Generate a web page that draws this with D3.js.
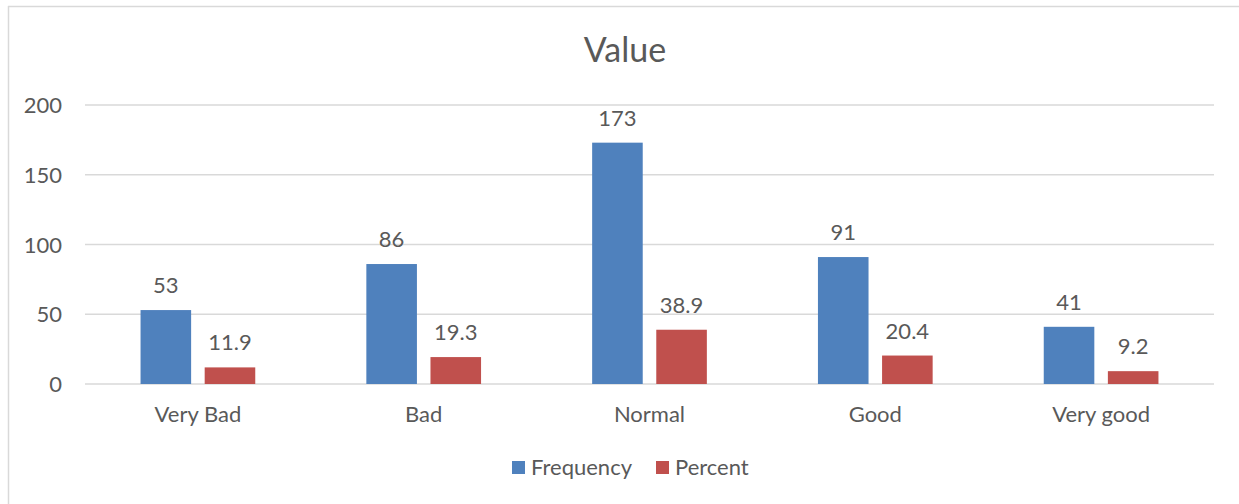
<!DOCTYPE html>
<html>
<head>
<meta charset="utf-8">
<script src="https://cdn.jsdelivr.net/npm/d3@7"></script>
<style>
  body { margin: 0; background: #fff; }
  text { font-family: Lato, "Open Sans", sans-serif; fill: #595959; }
</style>
</head>
<body>
<svg width="1239" height="504"></svg>
<script>
  // data
  var categories = ["Very Bad", "Bad", "Normal", "Good", "Very good"];
  var frequency = [53, 86, 173, 91, 41];
  var percent = [11.9, 19.3, 38.9, 20.4, 9.2];
  var percentLabels = ["11.9", "19.3", "38.9", "20.4", "9.2"];
  var yTicks = [0, 50, 100, 150, 200];
  var seriesNames = ["Frequency", "Percent"];
  var colors = ["#4F81BD", "#C0504D"];

  var svg = d3.select("svg");

  // chart border (top + left visible)
  svg.append("line").attr("x1", 8).attr("x2", 1239).attr("y1", 6.5).attr("y2", 6.5)
     .style("stroke", "#d9d9d9").style("stroke-width", 1.5);
  svg.append("line").attr("x1", 8.5).attr("x2", 8.5).attr("y1", 6).attr("y2", 504)
     .style("stroke", "#d9d9d9").style("stroke-width", 1.5);

  var plotL = 85, plotR = 1214, plotT = 105, plotB = 384;

  var xScale = d3.scaleBand().domain(categories).range([plotL, plotR]);
  var yScale = d3.scaleLinear().domain([0, 200]).range([plotB, plotT]);

  var bw = xScale.bandwidth();
  var barW = bw * 0.224, gap = bw * 0.06;

  // title
  svg.append("text")
    .attr("x", 625)
    .attr("y", 62)
    .attr("text-anchor", "middle")
    .style("font-size", "34px")
    .text("Value");

  // grid
  svg.append("g").selectAll("line")
    .data(yTicks).enter().append("line")
    .attr("x1", plotL).attr("x2", plotR)
    .attr("y1", function (d) { return yScale(d); })
    .attr("y2", function (d) { return yScale(d); })
    .style("stroke", "#d9d9d9").style("stroke-width", 1.5);

  // y tick labels
  svg.append("g").selectAll("text")
    .data(yTicks).enter().append("text")
    .attr("x", 62)
    .attr("y", function (d) { return yScale(d) + 8; })
    .attr("text-anchor", "end")
    .style("font-size", "22px")
    .text(function (d) { return d; });

  // x labels
  svg.append("g").selectAll("text")
    .data(categories).enter().append("text")
    .attr("x", function (d) { return xScale(d) + bw / 2; })
    .attr("y", 422)
    .attr("text-anchor", "middle")
    .style("font-size", "22px")
    .text(function (d) { return d; });

  var series = [frequency, percent];
  var labels = [frequency.map(String), percentLabels];

  series.forEach(function (vals, s) {
    var xPos = function (d, i) {
      var c = xScale(categories[i]) + bw / 2;
      return s === 0 ? c - gap / 2 - barW : c + gap / 2;
    };
    svg.append("g").selectAll("rect")
      .data(vals).enter().append("rect")
      .attr("x", xPos)
      .attr("y", function (d) { return yScale(d); })
      .attr("width", barW)
      .attr("height", function (d) { return plotB - yScale(d); })
      .style("fill", colors[s]);

    svg.append("g").selectAll("text")
      .data(vals).enter().append("text")
      .attr("x", function (d, i) { return xPos(d, i) + barW / 2; })
      .attr("y", function (d) { return yScale(d) - 17; })
      .attr("text-anchor", "middle")
      .style("font-size", "22px")
      .text(function (d, i) { return labels[s][i]; });
  });

  // legend
  var legendX = [512, 656];
  seriesNames.forEach(function (name, s) {
    svg.append("rect")
      .attr("x", legendX[s]).attr("y", 461)
      .attr("width", 13).attr("height", 13)
      .style("fill", colors[s]);
    svg.append("text")
      .attr("x", legendX[s] + 19).attr("y", 475)
      .style("font-size", "22px")
      .text(name);
  });
</script>
</body>
</html>
